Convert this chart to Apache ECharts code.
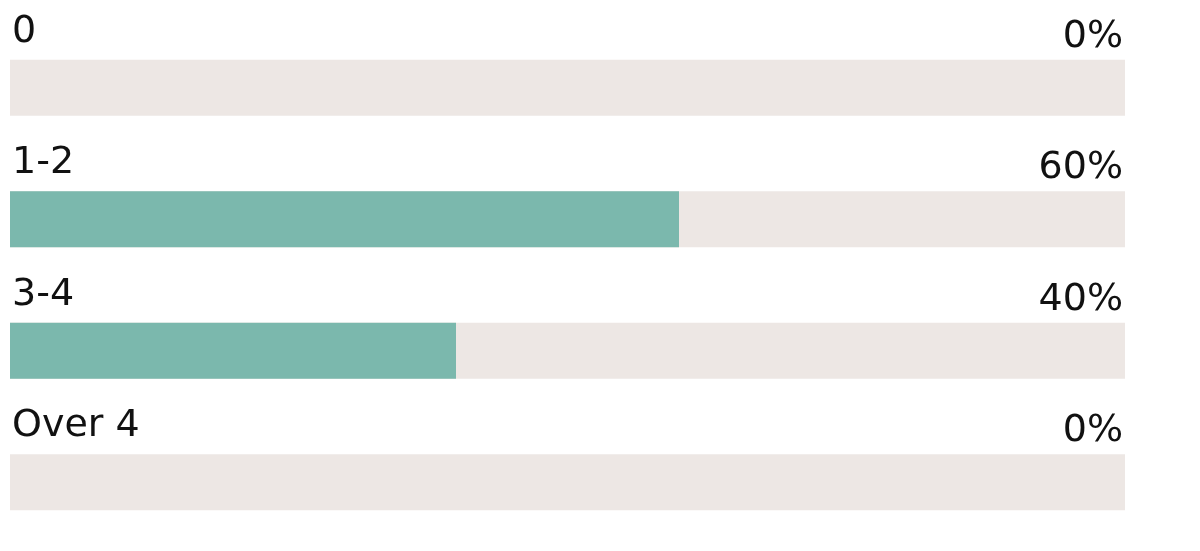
<!DOCTYPE html>
<html><head><meta charset="utf-8">
<script src="https://cdn.jsdelivr.net/npm/echarts@6/dist/echarts.min.js"></script>
<style>html,body{margin:0;padding:0;background:#fff}#c{width:1200px;height:551px}</style>
</head><body><div id="c"></div>
<script>
const categories = ['0', '1-2', '3-4', 'Over 4'];
const values = [0, 60, 40, 0];
const maxValue = 100;

const chart = echarts.init(document.getElementById('c'));
const fullRow = categories.map(() => maxValue);
const txt = {color: '#111111', fontFamily: 'DejaVu Sans', fontSize: 38};
chart.setOption({
  animation: false,
  grid: {left: 10, right: 75, top: 22, bottom: 3},
  xAxis: {type: 'value', min: 0, max: maxValue, show: false},
  yAxis: {type: 'category', data: categories, inverse: true, show: false},
  series: [
    {type: 'bar', data: fullRow, barWidth: 56, itemStyle: {color: '#ede7e4'}, silent: true,
     label: Object.assign({show: true, position: [0, 0], align: 'left', verticalAlign: 'bottom', offset: [2, -9],
       formatter: p => categories[p.dataIndex]}, txt)},
    {type: 'bar', data: values, barWidth: 56, barGap: '-100%', itemStyle: {color: '#7bb8ad'}, z: 3},
    {type: 'bar', data: fullRow, barWidth: 56, barGap: '-100%', itemStyle: {color: 'rgba(0,0,0,0)'}, silent: true, z: 4,
     label: Object.assign({show: true, position: ['100%', 0], align: 'right', verticalAlign: 'bottom', offset: [-2, -4],
       formatter: p => values[p.dataIndex] + '%'}, txt)}
  ]
});
</script></body></html>
